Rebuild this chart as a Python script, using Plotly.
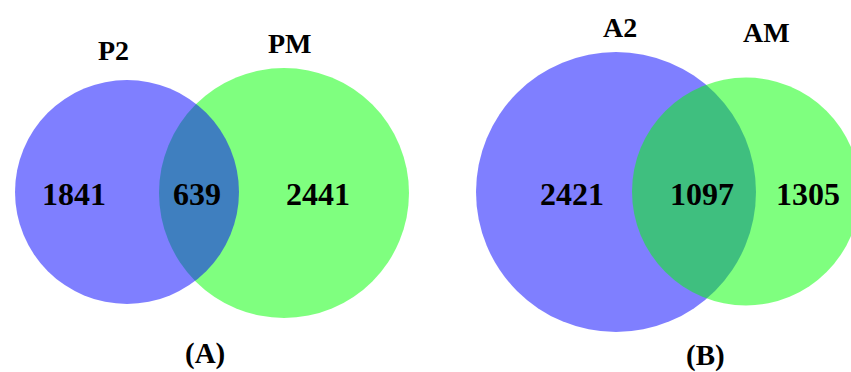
import plotly.graph_objects as go

# ---- data ----
panel_titles = ["(A)", "(B)"]
set_labels_A = ["P2", "PM"]
set_labels_B = ["A2", "AM"]
counts_A = [1841, 639, 2441]   # P2 only, both, PM only
counts_B = [2421, 1097, 1305]  # A2 only, both, AM only

# ---- layout geometry (pixel-like units) ----
W, H = 851, 372
circles_A = [  # (cx, cy, r, color), drawn in order
    (284, 193, 125, "rgb(0,255,0)"),
    (127, 192, 112, "rgb(0,0,255)"),
]
circles_B = [
    (616, 192, 140, "rgb(0,0,255)"),
    (746, 191.5, 114, "rgb(0,255,0)"),
]
count_pos_A = [(74, 194), (197, 194), (318, 194)]
count_pos_B = [(572, 194), (702, 194), (808, 194)]
label_pos_A = [(113, 50), (290, 43)]
label_pos_B = [(620, 27), (766, 32)]
title_pos = [(205, 353), (705, 355)]

FONT = "Liberation Serif"

fig = go.Figure()
shapes = []
for cx, cy, r, col in circles_A + circles_B:
    shapes.append(dict(type="circle", xref="x", yref="y",
                       x0=cx - r, x1=cx + r, y0=cy - r, y1=cy + r,
                       fillcolor=col, opacity=0.5, line=dict(width=0),
                       layer="below"))

annotations = []
def add_text(txt, pos, size):
    annotations.append(dict(x=pos[0], y=pos[1], xref="x", yref="y",
                            text="<b>%s</b>" % txt, showarrow=False,
                            xanchor="center", yanchor="middle",
                            font=dict(family=FONT, size=size, color="black")))

for v, p in zip(counts_A, count_pos_A):
    add_text(v, p, 32)
for v, p in zip(counts_B, count_pos_B):
    add_text(v, p, 32)
for t, p in zip(set_labels_A, label_pos_A):
    add_text(t, p, 28)
for t, p in zip(set_labels_B, label_pos_B):
    add_text(t, p, 28)
for t, p in zip(panel_titles, title_pos):
    add_text(t, p, 29)

# invisible anchor trace so the axes exist
fig.add_trace(go.Scatter(x=[0, W], y=[0, H], mode="markers",
                         marker=dict(opacity=0), hoverinfo="skip",
                         showlegend=False))

fig.update_layout(
    width=W, height=H,
    margin=dict(l=0, r=0, t=0, b=0),
    paper_bgcolor="white", plot_bgcolor="white",
    shapes=shapes, annotations=annotations,
    xaxis=dict(range=[0, W], visible=False, fixedrange=True),
    yaxis=dict(range=[H, 0], visible=False, fixedrange=True),
    showlegend=False,
)

fig.write_html("out.html")
